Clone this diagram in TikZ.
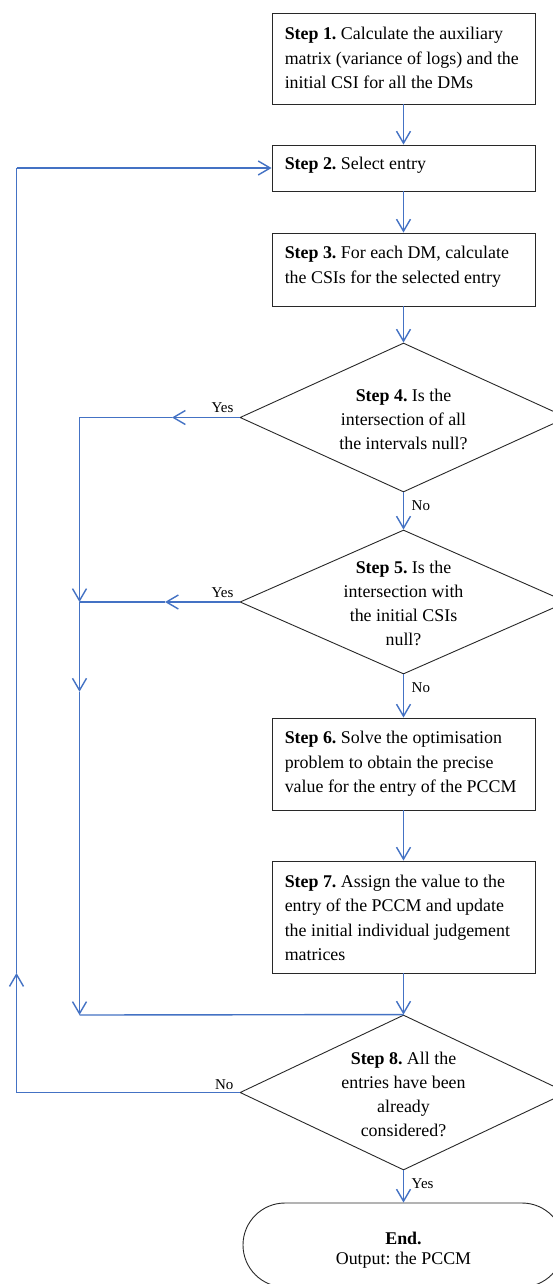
\documentclass[tikz,border=0pt]{standalone}
\usepackage{fontspec}
\setmainfont{Liberation Serif}
\usetikzlibrary{arrows.meta,shapes.geometric,shapes.misc,calc}
\definecolor{flowblue}{RGB}{68,114,196}
\definecolor{boxline}{RGB}{40,40,40}
\frenchspacing
\begin{document}
\begin{tikzpicture}[x=1pt,y=-1pt,
  box/.style={draw=boxline, line width=0.9pt, minimum width=263pt, inner sep=0pt, fill=white},
  dia/.style={draw=boxline, line width=0.9pt, diamond, inner sep=0pt, minimum width=327pt, fill=white},
  term/.style={draw=boxline, line width=0.9pt, rounded rectangle, inner sep=0pt, minimum width=321pt, minimum height=84pt, fill=white},
  txt/.style={font=\fontsize{17.9}{24.5}\selectfont, align=left, inner sep=0pt, anchor=north west},
  dtxt/.style={font=\fontsize{17.9}{24}\selectfont, align=center, inner sep=0pt},
  etxt/.style={font=\fontsize{17.9}{20}\selectfont, align=center, inner sep=0pt},
  lab/.style={font=\fontsize{15}{18}\selectfont, inner sep=0pt},
  link/.style={draw=flowblue, line width=1.4pt},
  flow/.style={link, -{Straight Barb[length=12pt,width=14pt]}},
]
\clip (0,0) rectangle (553,1284);
\fill[white] (0,0) rectangle (553,1284);

% shapes
\node[box, minimum height=91pt]  (b1) at (403.5,58.5) {};
\node[box, minimum height=46pt]  (b2) at (403.5,168) {};
\node[box, minimum height=73pt]  (b3) at (403.5,269.5) {};
\node[dia, minimum height=149pt] (d4) at (403.5,417.5) {};
\node[dia, minimum height=144pt] (d5) at (403.5,602) {};
\node[box, minimum height=92pt]  (b6) at (403.5,764) {};
\node[box, minimum height=112pt] (b7) at (403.5,917) {};
\node[dia, minimum height=155pt] (d8) at (403.5,1092.5) {};
\node[term] (e) at (403.5,1245) {};

% texts
\node[txt] (t1) at ($(b1.north west)+(13,10)$) {\strut\textbf{Step 1.} Calculate the auxiliary\\matrix (variance of logs) and the\\initial CSI for all the DMs};
\node[txt] (t2) at ($(b2.north west)+(13,8)$) {\strut\textbf{Step 2.} Select entry};
\node[txt] (t3) at ($(b3.north west)+(13,9)$) {\strut\textbf{Step 3.} For each DM, calculate\\the CSIs for the selected entry};
\node[txt] (t6) at ($(b6.north west)+(13,9)$) {\strut\textbf{Step 6.} Solve the optimisation\\problem to obtain the precise\\value for the entry of the PCCM};
\node[txt] (t7) at ($(b7.north west)+(13,9.5)$) {\strut\textbf{Step 7.} Assign the value to the\\entry of the PCCM and update\\the initial individual judgement\\matrices\strut};
\node[dtxt] (t4) at ($(d4.center)+(0,3)$) {\strut\textbf{Step 4.} Is the\\intersection of all\\the intervals null?\strut};
\node[dtxt] (t5) at ($(d5.center)+(0,3)$) {\strut\textbf{Step 5.} Is the\\intersection with\\the initial CSIs\\null?\strut};
\node[dtxt] (t8) at ($(d8.center)+(0,3)$) {\strut\textbf{Step 8.} All the\\entries have been\\already\\considered?\strut};
\node[etxt] (te) at ($(e.center)+(0,5)$) {\textbf{End.}\\Output: the PCCM};

% free-end coordinates
\coordinate (y4) at (172,417.5);
\coordinate (c4) at (79.5,417.5);
\coordinate (j5) at (79.5,602);
\coordinate (y5) at (165,602);
\coordinate (m6) at (79.5,691.7);
\coordinate (j8) at (79.5,1015);
\coordinate (n8) at (16.5,1092.5);
\coordinate (u8) at (16.5,973);
\coordinate (c2) at (16.5,168);

% main flow
\draw[flow] (b1.south) -- (b2.north);
\draw[flow] (b2.south) -- (b3.north);
\draw[flow] (b3.south) -- (d4.north);
\draw[flow] (d4.south) -- (d5.north);
\draw[flow] (d5.south) -- (b6.north);
\draw[flow] (b6.south) -- (b7.north);
\draw[flow] (b7.south) -- (d8.north);
\draw[flow] (d8.south) -- (e.north);

% Yes branches
\draw[flow] (d4.west) -- (y4);
\draw[flow] (y4) -- (c4) -- (j5);
\draw[flow] (d5.west) -- (y5);
\draw[link] (y5) -- (j5);
\draw[flow] (j5) -- (m6);
\draw[flow] (m6) -- (j8);
\draw[link] (j8) -- (d8.north);

% No loop back
\draw[link] (d8.west) -- (n8);
\draw[flow] (n8) -- (u8);
\draw[link] (u8) -- (c2);
\draw[flow] (c2) -- (b2.west);

% labels
\node[lab, anchor=base east] (l4) at ($(d4.west)+(-6,-5)$) {Yes};
\node[lab, anchor=base east] (l5) at ($(d5.west)+(-6,-5)$) {Yes};
\node[lab, anchor=base east] (l8) at ($(d8.west)+(-6,-3)$) {No};
\node[lab, anchor=north west] (n4) at ($(d4.south)+(8,8)$) {No};
\node[lab, anchor=north west] (n5) at ($(d5.south)+(8,8)$) {No};
\node[lab, anchor=north west] (y8) at ($(d8.south)+(8,8)$) {Yes};
\end{tikzpicture}
\end{document}
